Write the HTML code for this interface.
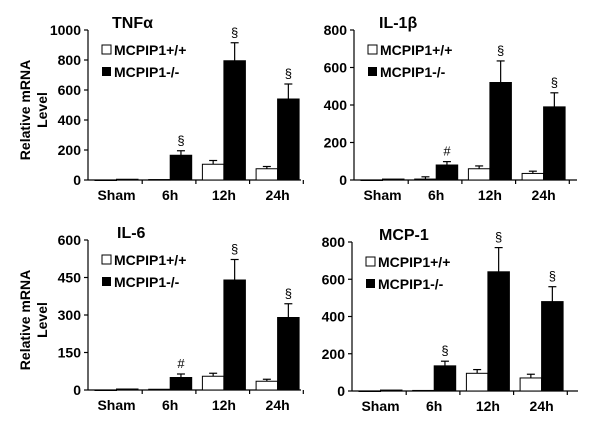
<!DOCTYPE html>
<html><head><meta charset="utf-8"><style>
html,body{margin:0;padding:0;background:#fff;width:600px;height:428px;overflow:hidden}
svg{display:block;font-family:"Liberation Sans",Arial,sans-serif;font-weight:bold}
</style></head><body>
<svg id="chart" width="600" height="428" viewBox="0 0 600 428" xmlns="http://www.w3.org/2000/svg"></svg>
<script>
const categories = ["Sham","6h","12h","24h"];
const tnfWT = [0,3,105,75];
const tnfWTErr = [0,0,25,15];
const tnfKO = [5,165,795,540];
const tnfKOErr = [0,30,120,100];
const tnfMarks = ["","§","§","§"];
const il1WT = [0,5,60,35];
const il1WTErr = [0,12,15,12];
const il1KO = [5,80,520,390];
const il1KOErr = [0,18,115,75];
const il1Marks = ["","#","§","§"];
const il6WT = [0,3,55,35];
const il6WTErr = [0,0,12,8];
const il6KO = [4,50,440,290];
const il6KOErr = [0,14,82,55];
const il6Marks = ["","#","§","§"];
const mcpWT = [0,3,95,70];
const mcpWTErr = [0,0,20,20];
const mcpKO = [5,135,640,480];
const mcpKOErr = [0,25,130,80];
const mcpMarks = ["","§","§","§"];
const tnfTicks = [0,200,400,600,800,1000];
const il1Ticks = [0,200,400,600,800];
const il6Ticks = [0,150,300,450,600];
const mcpTicks = [0,200,400,600,800];

const svg = document.getElementById('chart');
const NS = "http://www.w3.org/2000/svg";
function mk(tag, attrs, parent){const e=document.createElementNS(NS,tag);for(const k in attrs)e.setAttribute(k,attrs[k]);(parent||svg).appendChild(e);return e;}

function panel(p){
  const g = mk('g',{});
  
  
  const maxV = p.ticks[p.ticks.length-1];
  const y = v => p.y0 - (v/maxV)*(p.y0-p.yTop);
  const groupW = 53.7, barW = 21.5;
  const x = i => p.ax + 7 + i*groupW;
  // axes
  const ya = mk('line',{x1:p.ax,y1:p.yTop,x2:p.ax,y2:p.y0,stroke:'#000','stroke-width':1.2},g);
  
  
  const xa = mk('line',{x1:p.ax,y1:p.y0,x2:p.xEnd,y2:p.y0,stroke:'#000','stroke-width':1.2},g);
  
  
  p.ticks.forEach(t=>{
    mk('line',{x1:p.ax-4,y1:y(t),x2:p.ax,y2:y(t),stroke:'#000','stroke-width':1.2},g);
    const tl = mk('text',{x:p.ax-7,y:y(t)+5,'text-anchor':'end','font-size':14},g);
    tl.textContent = t;
    
    
  });
  categories.forEach((c,i)=>{
    const tx = p.ax + (i+1)*groupW + 0.5;
    mk('line',{x1:tx,y1:p.y0,x2:tx,y2:p.y0+4,stroke:'#000','stroke-width':1.2},g);
    const cl = mk('text',{x:x(i)+barW,y:p.y0+20,'text-anchor':'middle','font-size':14},g);
    cl.textContent = c;
    
    
    // bars
    const series = [[p.wt,p.wtE,'#fff',0],[p.ko,p.koE,'#000',1]];
    series.forEach(([vals,errs,fill,s])=>{
      const v = vals[i]; const bx = x(i)+s*barW;
      if(errs[i]>0){
        const e1 = y(v+errs[i]);
        const el = mk('line',{x1:bx+barW/2,y1:y(v),x2:bx+barW/2,y2:e1,stroke:'#000','stroke-width':1.2},g);
        
        
        mk('line',{x1:bx+barW/2-4,y1:e1,x2:bx+barW/2+4,y2:e1,stroke:'#000','stroke-width':1.2},g);
      }
      const r = mk('rect',{x:bx,y:y(v),width:barW,height:Math.max(0.5,p.y0-y(v)),fill:fill,stroke:'#000','stroke-width':1},g);
      
      
    });
    if(p.marks[i]){
      const top = y(p.ko[i]+p.koE[i]);
      const m = mk('text',{x:x(i)+barW*1.5,y:top-6,'text-anchor':'middle','font-size':13,'font-weight':'normal'},g);
      m.textContent = p.marks[i];
      
      
    }
  });
  const title = mk('text',{x:p.tx,y:p.yTop-2,'font-size':16},g);
  title.textContent = p.title;
  
  
  // legend
  const lx = p.ax+14, ly = p.yTop+15;
  const lg = mk('g',{},g);
  
  
  mk('rect',{x:lx,y:ly,width:9,height:9,fill:'#fff',stroke:'#000','stroke-width':1},lg);
  const t1 = mk('text',{x:lx+12,y:ly+10,'font-size':14},lg); t1.textContent='MCPIP1+/+';
  
  
  mk('rect',{x:lx,y:ly+22,width:9,height:9,fill:'#000'},lg);
  const t2 = mk('text',{x:lx+12,y:ly+32,'font-size':14},lg); t2.textContent='MCPIP1-/-';
  
  
  if(p.ylabel){
    const cx = 30, cy = (p.y0+p.yTop)/2+5;
    const yl = mk('text',{transform:`translate(${cx},${cy}) rotate(-90)`,'text-anchor':'middle','font-size':14},g);
    
    
    const a = mk('tspan',{x:0,y:0},yl); a.textContent='Relative mRNA';
    const b = mk('tspan',{x:0,y:17},yl); b.textContent='Level';
  }
}
panel({key:'tnf',title:'TNFα',tx:112,ax:88,y0:180,yTop:30,xEnd:301,ticks:tnfTicks,wt:tnfWT,wtE:tnfWTErr,ko:tnfKO,koE:tnfKOErr,marks:tnfMarks,ylabel:true});
panel({key:'il1b',title:'IL-1β',tx:379,ax:354,y0:180,yTop:30,xEnd:577,ticks:il1Ticks,wt:il1WT,wtE:il1WTErr,ko:il1KO,koE:il1KOErr,marks:il1Marks,ylabel:false});
panel({key:'il6',title:'IL-6',tx:117,ax:88,y0:390,yTop:240,xEnd:301,ticks:il6Ticks,wt:il6WT,wtE:il6WTErr,ko:il6KO,koE:il6KOErr,marks:il6Marks,ylabel:true});
panel({key:'mcp1',title:'MCP-1',tx:379,ax:352,y0:391,yTop:242,xEnd:578,ticks:mcpTicks,wt:mcpWT,wtE:mcpWTErr,ko:mcpKO,koE:mcpKOErr,marks:mcpMarks,ylabel:false});
</script>
</body></html>
